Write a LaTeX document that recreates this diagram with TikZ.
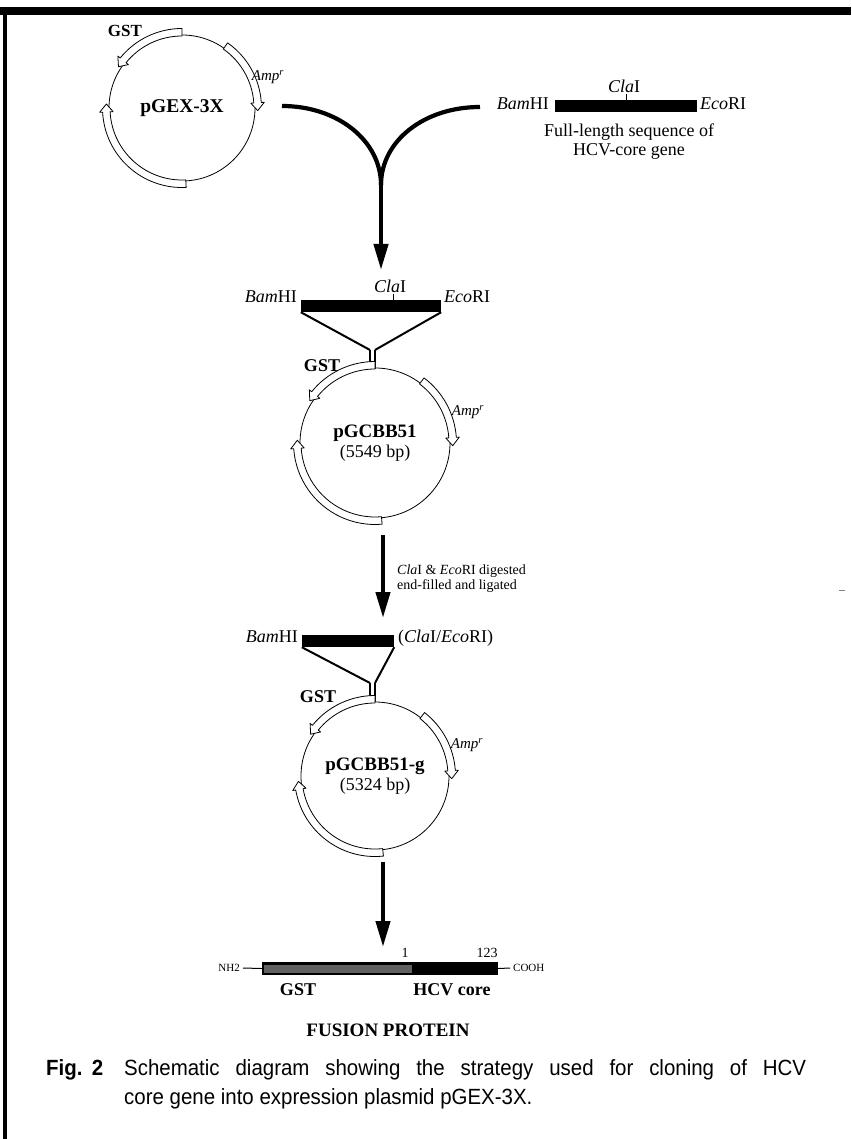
\documentclass[tikz,border=0pt]{standalone}
\usepackage{fontspec}
\setmainfont{Liberation Serif}
\newfontfamily\capfont[FakeStretch=0.93]{Liberation Sans}
\usetikzlibrary{arrows.meta}
\newcommand{\fs}[1]{\fontsize{#1}{#1}\selectfont}
% plasmid band: center, radius, start angle, head-base angle, tip angle
\newcommand{\pband}[5]{%
  \pgfmathsetmacro\bRi{#2-1}\pgfmathsetmacro\bRo{#2+6.5}%
  \pgfmathsetmacro\bRii{#2-4}\pgfmathsetmacro\bRoo{#2+9.5}\pgfmathsetmacro\bRm{#2+2.75}%
  \begin{scope}[shift={(#1)}]
    \filldraw[bandline] (#3:\bRi pt) -- (#3:\bRo pt) arc[start angle=#3, end angle=#4, radius=\bRo pt]
      -- (#4:\bRoo pt) -- (#5:\bRm pt) -- (#4:\bRii pt) -- (#4:\bRi pt)
      arc[start angle=#4, end angle=#3, radius=\bRi pt] -- cycle;
  \end{scope}}
\tikzset{
  bandline/.style={draw=black, fill=white, line width=0.8pt, line join=round},
  plasmid/.style={circle, draw=black, line width=0.8pt, inner sep=0pt, align=center},
  genebar/.style={rectangle, fill=black, draw=none, inner sep=0pt},
  lbl/.style={inner sep=0pt, font=\fs{18}},
  smalllbl/.style={inner sep=0pt, font=\fs{15}},
  boldlbl/.style={inner sep=0pt, font=\fs{18}\bfseries},
  fatline/.style={line width=4.2pt},
  shaft/.style={line width=4.2pt, -{Triangle[length=26pt,width=14pt]}},
  convline/.style={line width=2pt},
  stemline/.style={line width=1.1pt},
}
\begin{document}
\begin{tikzpicture}[x=1pt,y=-1pt]
\useasboundingbox (0,0) rectangle (851,1139);
% frame
\fill[black] (0,7) rectangle (851,15);
\fill[black] (3,7) rectangle (7,1139);
\draw[line width=1pt, gray] (839,590) -- (845,590);

% ---------- pGEX-3X ----------
\node[plasmid, minimum size=146pt, font=\fs{19.5}\bfseries] (p1) at (182,108) {pGEX-3X};
\pband{p1}{73}{90}{141}{147}
\pband{p1}{73}{55}{4}{-2}
\pband{p1}{73}{273}{183}{177}
\node[boldlbl, font=\fs{17}\bfseries] (gst1) at (125,31) {GST};
\node[smalllbl] (amp1) at (268,77) {\textit{Amp\textsuperscript{r}}};

% ---------- HCV core gene ----------
\node[genebar, minimum width=142pt, minimum height=12pt] (g1) at (626,106) {};
\node[lbl, anchor=base east] (bam1) at (549,110) {\textit{Bam}HI};
\node[lbl, anchor=base west] (eco1) at (700,110) {\textit{Eco}RI};
\node[lbl, anchor=base] (cla1) at (624,93) {\textit{Cla}I};
\draw[line width=0.8pt] (626,100) -- (626,94);
\node[lbl, align=center, anchor=north] (fl1) at (629,124) {Full-length sequence of\\[1pt]HCV-core gene};

% ---------- merging arrow ----------
\coordinate (c1) at (282,106);
\coordinate (c2) at (480,107);
\coordinate (mg) at (381,185);
\coordinate (t1) at (381,270);
\draw[fatline] (c1) .. controls (338,106) and (381,141) .. (mg);
\draw[fatline] (c2) .. controls (424,107) and (381,141) .. (mg);
\draw[shaft] (mg) -- (t1);

% ---------- insert into pGCBB51 ----------
\node[genebar, minimum width=140pt, minimum height=12pt] (g2) at (371,306) {};
\node[lbl, anchor=base east] (bam2) at (297,302) {\textit{Bam}HI};
\node[lbl, anchor=base west] (eco2) at (444,302) {\textit{Eco}RI};
\node[lbl, anchor=base] (cla2) at (390,292) {\textit{Cla}I};
\draw[line width=0.8pt] (393,300) -- (393,294);
\coordinate (v2l) at (370,350);
\coordinate (v2r) at (375,350);
\coordinate (s2l) at (370,369);
\coordinate (s2r) at (375,369);
\draw[convline] (g2.south west) -- (v2l);
\draw[convline] (g2.south east) -- (v2r);
\draw[stemline] (v2l) -- (s2l);
\draw[stemline] (v2r) -- (s2r);

\node[plasmid, minimum size=150pt] (p2) at (375,443) {{\fs{19}\bfseries pGCBB51}\\[2pt]{\fs{18}(5549 bp)}};
\pband{p2}{75}{90}{141}{147}
\pband{p2}{75}{53}{4}{-2}
\pband{p2}{75}{275}{184}{178}
\node[boldlbl] (gst2) at (322,366) {GST};
\node[smalllbl] (amp2) at (468,412) {\textit{Amp\textsuperscript{r}}};

% ---------- arrow 2 ----------
\coordinate (a2s) at (383,535);
\coordinate (a2e) at (383,618);
\draw[shaft] (a2s) -- (a2e);
\node[inner sep=0pt, anchor=north west, align=left, font=\fs{14}] (dig) at (397,565)
  {\textit{Cla}I \& \textit{Eco}RI digested\\[1pt]end-filled and ligated};

% ---------- pGCBB51-g ----------
\node[genebar, minimum width=92pt, minimum height=12pt] (g3) at (348,641) {};
\node[lbl, anchor=base east] (bam3) at (298,642) {\textit{Bam}HI};
\node[lbl, anchor=base west] (ce3) at (398,642) {(\textit{Cla}I/\textit{Eco}RI)};
\coordinate (v3l) at (370,683);
\coordinate (v3r) at (375,683);
\coordinate (s3l) at (370,702);
\coordinate (s3r) at (375,702);
\draw[convline] (g3.south west) -- (v3l);
\draw[convline] (g3.south east) -- (v3r);
\draw[stemline] (v3l) -- (s3l);
\draw[stemline] (v3r) -- (s3r);

\node[plasmid, minimum size=148pt] (p3) at (375,776) {{\fs{19}\bfseries pGCBB51-g}\\[2pt]{\fs{18}(5324 bp)}};
\pband{p3}{74}{90}{141}{147}
\pband{p3}{74}{52}{4}{-2}
\pband{p3}{74}{276}{190}{184}
\node[boldlbl] (gst3) at (318,697) {GST};
\node[smalllbl] (amp3) at (467,745) {\textit{Amp\textsuperscript{r}}};

% ---------- arrow 3 ----------
\coordinate (a3s) at (383,862);
\coordinate (a3e) at (383,947);
\draw[shaft] (a3s) -- (a3e);

% ---------- fusion protein ----------
\node[genebar, minimum width=236pt, minimum height=13pt] (fp) at (380,968.5) {};
\fill[black!62] (264,964.5) rectangle (412,972.5);
\node[inner sep=0pt, anchor=east, font=\fs{11}] (nh2) at (240,968) {NH2};
\node[inner sep=0pt, anchor=west, font=\fs{11}] (cooh) at (513,968) {COOH};
\draw[line width=1pt] (nh2.east) ++(3,0) -- (fp.west);
\draw[line width=1pt] (fp.east) -- ([xshift=-3pt]cooh.west);
\node[inner sep=0pt, font=\fs{14}] (n1) at (405,953) {1};
\node[inner sep=0pt, font=\fs{14}] (n123) at (487,953) {123};
\node[boldlbl] (gstf) at (298,990) {GST};
\node[boldlbl] (hcv) at (452,990) {HCV core};
\node[boldlbl, font=\fs{19}\bfseries] (fus) at (388,1030) {FUSION PROTEIN};

% ---------- caption ----------
\node[inner sep=0pt, anchor=base west, font=\capfont\fs{22}\bfseries] (fig) at (46,1075) {\makebox[57pt][s]{Fig. 2}};
\node[inner sep=0pt, anchor=base west, font=\capfont\fs{22}] (cap) at (124,1075)
  {\makebox[682pt][s]{Schematic diagram showing the strategy used for cloning of HCV}};
\node[inner sep=0pt, anchor=base west, font=\capfont\fs{22}] (cap2) at (124,1104)
  {core gene into expression plasmid pGEX-3X.};
\end{tikzpicture}
\end{document}
